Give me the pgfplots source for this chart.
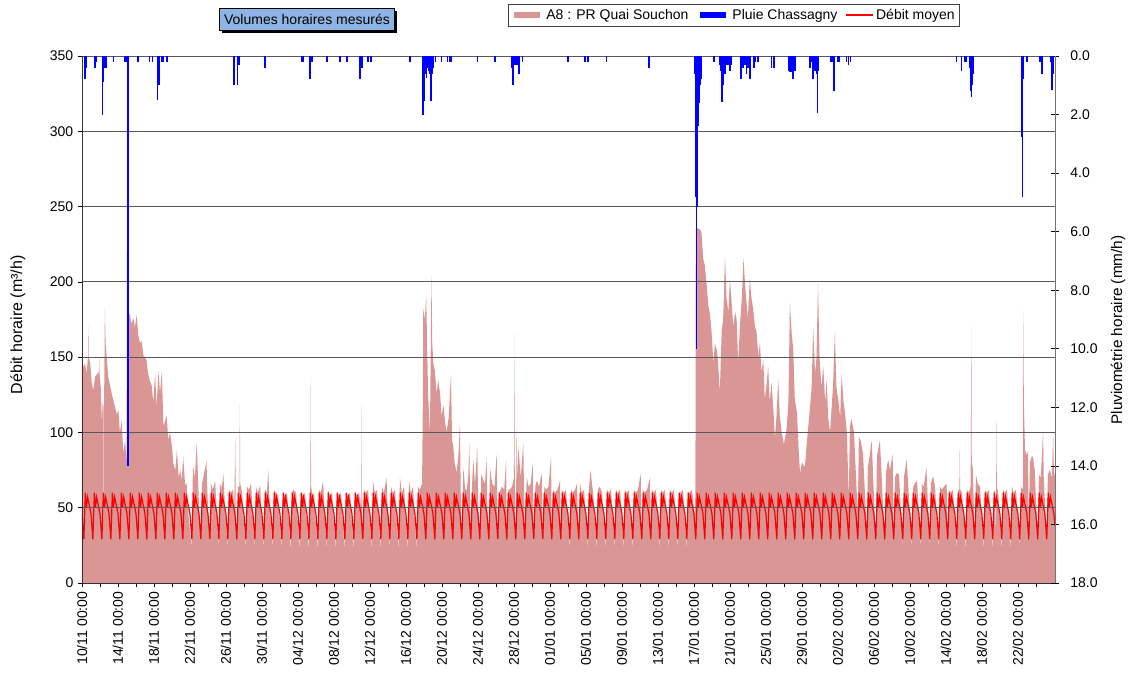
\documentclass[border=0pt]{standalone}
\usepackage{pgfplots}
\pgfplotsset{compat=1.18}
\usepackage{fontspec}
\setmainfont{Liberation Sans}
\usetikzlibrary{shadows}
\definecolor{pinkc}{RGB}{217,150,148}
\definecolor{titleblue}{RGB}{142,180,227}
\definecolor{rainblue}{RGB}{0,0,255}
\definecolor{meanred}{RGB}{255,0,0}
\pgfplotsset{
  pinkswatch/.style={legend image code/.code={\draw[draw=pinkc, line width=5pt] (0pt,0pt) -- (20pt,0pt);}},
  blueswatch/.style={legend image code/.code={\draw[draw=rainblue, line width=5pt] (0pt,0pt) -- (20pt,0pt);}},
  redswatch/.style={legend image code/.code={\draw[draw=meanred, line width=1pt] (0pt,0pt) -- (20pt,0pt);}},
}
\begin{document}
\begin{tikzpicture}
\begin{axis}[
  scale only axis, width=729.75pt, height=395.25pt,
  xmin=0, xmax=2595, ymin=0, ymax=350,
  axis x line*=bottom, axis y line*=left,
  xtick={0,96,...,2496},
  xticklabels={10/11 00:00,14/11 00:00,18/11 00:00,22/11 00:00,26/11 00:00,30/11 00:00,04/12 00:00,08/12 00:00,12/12 00:00,16/12 00:00,20/12 00:00,24/12 00:00,28/12 00:00,01/01 00:00,05/01 00:00,09/01 00:00,13/01 00:00,17/01 00:00,21/01 00:00,25/01 00:00,29/01 00:00,02/02 00:00,06/02 00:00,10/02 00:00,14/02 00:00,18/02 00:00,22/02 00:00},
  minor xtick={48,144,...,2544},
  ytick={0,50,...,350},
  ymajorgrids, grid style={black!65, line width=0.6pt},
  tick align=outside, major tick length=3pt, minor tick length=3pt,
  tick style={black, line width=0.5pt},
  axis line style={black!80, line width=0.6pt},
  /pgf/number format/assume math mode=true,
  ticklabel style={font=\fontsize{10.5}{12}\selectfont},
  xticklabel style={rotate=90, anchor=east},
  ylabel={Débit horaire (m³/h)},
  ylabel style={font=\fontsize{12}{14}\selectfont, at={(axis description cs:-0.0658,0.49)}, anchor=center},
  axis on top,
]
\addplot[fill=pinkc, draw=none] coordinates {
(0,150)(4,143)(8,146)(12,139)(16,150)(17,171)(18,150)(22,146)(26,133)(30,128)(35,137)(41,139)(45,140)(46,149)(47,138)(50,130)(53,107)(55,120)(56,118)(57,5)(58,118)(59,122)(60,150)(61,183)(63,159)(66,150)(70,137)(75,131)(79,126)(84,121)(88,117)(93,112)(97,115)(101,100)(106,108)(110,86)(115,95)(119,79)(120,220)(121,184)(124,180)(128,178)(132,172)(137,176)(141,170)(146,178)(150,165)(155,159)(159,161)(164,151)(168,150)(172,148)(176,140)(180,135)(186,131)(190,120)(195,139)(199,117)(204,141)(208,126)(213,141)(217,104)(222,108)(226,111)(230,95)(235,100)(240,90)(244,79)(249,75)(253,88)(258,70)(262,75)(266,68)(270,84)(275,65)(279,66)(284,45)
(292,24)(296,78)(301,70)(306,93)(310,66)
(316,24)(320,66)(325,72)(332,81)(334,64)
(340,24)(344,66)(349,62)(355,68)
(364,23)(368,66)(373,63)(377,73)(379,62)
(388,23)(392,62)(397,60)(403,62)
(406,50)(409,97)(410,45)(412,23)(416,64)(420,64)(421,119)(422,66)(427,60)
(436,23)(440,64)(445,62)(451,66)
(460,23)(464,64)(469,60)(475,65)
(484,23)(488,62)(493,60)(497,75)(499,60)
(508,23)(512,62)(517,60)(523,58)
(532,23)(536,60)(541,58)(547,60)
(556,22)(560,60)(564,62)(571,60)
(580,22)(584,60)(589,58)(595,60)
(604,22)(608,62)(609,64)(610,136)(611,64)(615,58)(619,60)
(628,22)(632,62)(637,60)(643,68)
(652,22)(656,62)(661,58)(667,60)
(676,22)(680,60)(685,58)(691,60)
(700,22)(704,60)(709,58)(715,60)
(724,22)(728,60)(733,58)(739,60)
(745,50)(746,119)(747,45)(749,22)(752,62)(757,60)(763,62)
(772,22)(776,68)(781,60)(787,62)
(796,22)(800,64)(805,60)(812,70)
(820,22)(824,64)(829,60)(835,62)
(844,22)(848,70)(853,60)(859,64)
(868,22)(872,68)(877,60)(883,64)
(892,22)(896,64)(901,62)(907,66)
(909,120)(910,182)(914,175)(918,190)(923,126)(928,100)(932,204)(934,160)(937,146)(941,141)(946,126)(950,135)(955,126)(959,111)(964,118)(968,108)(972,100)(978,110)(984,139)(987,95)(990,91)(994,80)(999,73)(1004,85)(1008,106)(1010,60)(1013,28)(1017,77)(1022,62)(1026,62)(1030,70)(1033,93)(1035,55)(1037,26)(1041,70)(1044,82)(1048,65)(1054,91)(1057,50)(1061,25)(1065,73)(1070,68)(1075,66)(1079,84)(1081,50)(1085,24)(1088,77)(1094,66)(1100,64)(1106,86)(1109,24)(1113,60)(1120,64)(1126,62)(1131,82)(1133,24)(1137,62)(1141,62)(1147,64)(1152,70)(1153,166)(1154,80)(1157,24)(1159,104)(1161,70)(1164,91)(1170,70)(1177,93)(1181,24)(1186,70)(1191,64)(1197,66)(1202,80)(1205,23)(1209,64)(1213,68)(1219,64)(1226,73)(1229,23)(1233,64)(1238,62)(1244,64)(1251,84)(1253,23)(1257,62)(1262,60)(1268,62)(1275,68)(1277,23)
(1280,62)(1285,60)(1291,62)
(1301,22)(1304,62)(1309,60)(1315,62)
(1320,66)(1325,22)(1328,66)(1333,60)(1339,62)
(1349,22)(1352,62)(1356,75)(1363,60)
(1373,22)(1376,62)(1381,64)(1387,60)
(1397,22)(1400,62)(1405,60)(1411,62)
(1421,22)(1424,62)(1429,60)(1435,62)
(1445,22)(1448,62)(1453,60)(1459,62)
(1469,22)(1472,62)(1477,60)(1483,62)
(1490,73)(1493,22)(1496,62)(1501,60)(1507,62)
(1515,70)(1517,22)(1520,62)(1525,60)(1531,62)
(1541,22)(1544,62)(1549,60)(1555,62)
(1565,22)(1568,62)(1573,60)(1579,62)
(1589,22)(1592,60)(1597,60)(1603,62)
(1613,22)(1616,60)(1621,60)(1627,62)
(1634,45)(1636,60)
(1637,236)(1648,235)(1652,233)(1657,215)(1661,211)(1666,198)(1670,185)(1675,178)(1679,167)(1684,146)(1688,159)(1694,154)(1698,140)(1701,126)(1706,167)(1710,175)(1715,217)(1719,189)(1724,180)(1728,202)(1733,185)(1737,170)(1742,180)(1746,175)(1750,146)(1755,172)(1760,190)(1764,216)(1768,200)(1772,187)(1776,176)(1781,202)(1785,190)(1790,182)(1795,170)(1799,167)(1804,150)(1808,160)(1812,140)(1817,148)(1821,122)(1825,130)(1830,144)(1834,120)(1839,133)(1844,115)(1848,96)(1852,110)(1857,135)(1861,111)(1866,100)(1872,92)(1879,102)(1884,120)(1888,186)(1893,165)(1897,155)(1901,122)(1907,113)(1911,90)(1915,73)(1920,80)(1928,77)(1932,90)(1937,104)(1942,118)(1946,130)(1950,170)(1955,139)(1959,150)(1963,199)(1967,150)(1972,130)(1977,144)(1982,120)(1986,135)(1990,110)(1995,100)(2003,131)(2008,167)(2012,130)(2017,122)(2022,110)(2026,139)(2031,120)(2035,113)(2040,100)
(2045,55)(2048,104)(2052,109)(2059,100)
(2069,45)(2072,97)(2077,94)(2083,86)
(2093,34)(2096,77)(2101,85)(2106,95)
(2117,28)(2120,84)(2128,95)(2131,80)
(2141,26)(2144,73)(2150,82)(2155,75)
(2162,86)(2165,25)(2168,70)(2173,73)(2179,72)
(2189,24)(2192,70)(2199,82)(2203,68)
(2213,23)(2217,64)(2221,66)(2227,68)
(2237,23)(2240,66)(2245,64)(2252,77)
(2261,23)(2264,66)(2270,71)(2275,64)
(2285,23)(2288,64)(2293,62)(2299,64)
(2306,66)(2309,22)(2312,62)(2317,60)(2323,62)
(2333,22)(2336,62)(2340,62)(2341,89)(2342,62)(2347,60)
(2357,22)(2360,62)(2365,60)(2370,64)(2372,170)(2373,80)(2376,76)
(2381,24)(2384,72)(2389,66)(2395,64)
(2405,22)(2408,62)(2413,60)(2419,62)
(2429,22)(2432,62)(2436,60)(2437,2)(2438,60)(2439,108)(2440,62)(2443,62)
(2453,22)(2456,62)(2461,60)(2467,62)
(2477,22)(2480,64)(2485,60)(2491,62)
(2501,24)(2504,64)(2509,62)(2510,181)(2512,120)(2515,88)(2520,85)(2523,88)
(2525,30)(2528,80)(2533,84)(2536,84)(2541,75)
(2549,28)(2552,72)(2557,70)(2563,100)(2565,70)
(2573,28)(2576,72)(2581,75)(2587,70)(2590,100)(2592,75)(2595,70)
} \closedcycle;
\addplot[meanred, line width=0.9pt] coordinates {
(0,46)(5,29)(9,60)(12,50)(15,57)(20,51)
(24,46)(29,29)(33,60)(36,50)(39,57)(44,51)
(48,46)(53,29)(57,60)(60,50)(63,57)(68,51)
(72,46)(77,29)(81,60)(84,50)(87,57)(92,51)
(96,46)(101,29)(105,60)(108,50)(111,57)(116,51)
(120,46)(125,29)(129,60)(132,50)(135,57)(140,51)
(144,46)(149,29)(153,60)(156,50)(159,57)(164,51)
(168,46)(173,29)(177,60)(180,50)(183,57)(188,51)
(192,46)(197,29)(201,60)(204,50)(207,57)(212,51)
(216,46)(221,29)(225,60)(228,50)(231,57)(236,51)
(240,46)(245,29)(249,60)(252,50)(255,57)(260,51)
(264,46)(269,29)(273,60)(276,50)(279,57)(284,51)
(288,46)(293,29)(297,60)(300,50)(303,57)(308,51)
(312,46)(317,29)(321,60)(324,50)(327,57)(332,51)
(336,46)(341,29)(345,60)(348,50)(351,57)(356,51)
(360,46)(365,29)(369,60)(372,50)(375,57)(380,51)
(384,46)(389,29)(393,60)(396,50)(399,57)(404,51)
(408,46)(413,29)(417,60)(420,50)(423,57)(428,51)
(432,46)(437,29)(441,60)(444,50)(447,57)(452,51)
(456,46)(461,29)(465,60)(468,50)(471,57)(476,51)
(480,46)(485,29)(489,60)(492,50)(495,57)(500,51)
(504,46)(509,29)(513,60)(516,50)(519,57)(524,51)
(528,46)(533,29)(537,60)(540,50)(543,57)(548,51)
(552,46)(557,29)(561,60)(564,50)(567,57)(572,51)
(576,46)(581,29)(585,60)(588,50)(591,57)(596,51)
(600,46)(605,29)(609,60)(612,50)(615,57)(620,51)
(624,46)(629,29)(633,60)(636,50)(639,57)(644,51)
(648,46)(653,29)(657,60)(660,50)(663,57)(668,51)
(672,46)(677,29)(681,60)(684,50)(687,57)(692,51)
(696,46)(701,29)(705,60)(708,50)(711,57)(716,51)
(720,46)(725,29)(729,60)(732,50)(735,57)(740,51)
(744,46)(749,29)(753,60)(756,50)(759,57)(764,51)
(768,46)(773,29)(777,60)(780,50)(783,57)(788,51)
(792,46)(797,29)(801,60)(804,50)(807,57)(812,51)
(816,46)(821,29)(825,60)(828,50)(831,57)(836,51)
(840,46)(845,29)(849,60)(852,50)(855,57)(860,51)
(864,46)(869,29)(873,60)(876,50)(879,57)(884,51)
(888,46)(893,29)(897,60)(900,50)(903,57)(908,51)
(912,46)(917,29)(921,60)(924,50)(927,57)(932,51)
(936,46)(941,29)(945,60)(948,50)(951,57)(956,51)
(960,46)(965,29)(969,60)(972,50)(975,57)(980,51)
(984,46)(989,29)(993,60)(996,50)(999,57)(1004,51)
(1008,46)(1013,29)(1017,60)(1020,50)(1023,57)(1028,51)
(1032,46)(1037,29)(1041,60)(1044,50)(1047,57)(1052,51)
(1056,46)(1061,29)(1065,60)(1068,50)(1071,57)(1076,51)
(1080,46)(1085,29)(1089,60)(1092,50)(1095,57)(1100,51)
(1104,46)(1109,29)(1113,60)(1116,50)(1119,57)(1124,51)
(1128,46)(1133,29)(1137,60)(1140,50)(1143,57)(1148,51)
(1152,46)(1157,29)(1161,60)(1164,50)(1167,57)(1172,51)
(1176,46)(1181,29)(1185,60)(1188,50)(1191,57)(1196,51)
(1200,46)(1205,29)(1209,60)(1212,50)(1215,57)(1220,51)
(1224,46)(1229,29)(1233,60)(1236,50)(1239,57)(1244,51)
(1248,46)(1253,29)(1257,60)(1260,50)(1263,57)(1268,51)
(1272,46)(1277,29)(1281,60)(1284,50)(1287,57)(1292,51)
(1296,46)(1301,29)(1305,60)(1308,50)(1311,57)(1316,51)
(1320,46)(1325,29)(1329,60)(1332,50)(1335,57)(1340,51)
(1344,46)(1349,29)(1353,60)(1356,50)(1359,57)(1364,51)
(1368,46)(1373,29)(1377,60)(1380,50)(1383,57)(1388,51)
(1392,46)(1397,29)(1401,60)(1404,50)(1407,57)(1412,51)
(1416,46)(1421,29)(1425,60)(1428,50)(1431,57)(1436,51)
(1440,46)(1445,29)(1449,60)(1452,50)(1455,57)(1460,51)
(1464,46)(1469,29)(1473,60)(1476,50)(1479,57)(1484,51)
(1488,46)(1493,29)(1497,60)(1500,50)(1503,57)(1508,51)
(1512,46)(1517,29)(1521,60)(1524,50)(1527,57)(1532,51)
(1536,46)(1541,29)(1545,60)(1548,50)(1551,57)(1556,51)
(1560,46)(1565,29)(1569,60)(1572,50)(1575,57)(1580,51)
(1584,46)(1589,29)(1593,60)(1596,50)(1599,57)(1604,51)
(1608,46)(1613,29)(1617,60)(1620,50)(1623,57)(1628,51)
(1632,46)(1637,29)(1641,60)(1644,50)(1647,57)(1652,51)
(1656,46)(1661,29)(1665,60)(1668,50)(1671,57)(1676,51)
(1680,46)(1685,29)(1689,60)(1692,50)(1695,57)(1700,51)
(1704,46)(1709,29)(1713,60)(1716,50)(1719,57)(1724,51)
(1728,46)(1733,29)(1737,60)(1740,50)(1743,57)(1748,51)
(1752,46)(1757,29)(1761,60)(1764,50)(1767,57)(1772,51)
(1776,46)(1781,29)(1785,60)(1788,50)(1791,57)(1796,51)
(1800,46)(1805,29)(1809,60)(1812,50)(1815,57)(1820,51)
(1824,46)(1829,29)(1833,60)(1836,50)(1839,57)(1844,51)
(1848,46)(1853,29)(1857,60)(1860,50)(1863,57)(1868,51)
(1872,46)(1877,29)(1881,60)(1884,50)(1887,57)(1892,51)
(1896,46)(1901,29)(1905,60)(1908,50)(1911,57)(1916,51)
(1920,46)(1925,29)(1929,60)(1932,50)(1935,57)(1940,51)
(1944,46)(1949,29)(1953,60)(1956,50)(1959,57)(1964,51)
(1968,46)(1973,29)(1977,60)(1980,50)(1983,57)(1988,51)
(1992,46)(1997,29)(2001,60)(2004,50)(2007,57)(2012,51)
(2016,46)(2021,29)(2025,60)(2028,50)(2031,57)(2036,51)
(2040,46)(2045,29)(2049,60)(2052,50)(2055,57)(2060,51)
(2064,46)(2069,29)(2073,60)(2076,50)(2079,57)(2084,51)
(2088,46)(2093,29)(2097,60)(2100,50)(2103,57)(2108,51)
(2112,46)(2117,29)(2121,60)(2124,50)(2127,57)(2132,51)
(2136,46)(2141,29)(2145,60)(2148,50)(2151,57)(2156,51)
(2160,46)(2165,29)(2169,60)(2172,50)(2175,57)(2180,51)
(2184,46)(2189,29)(2193,60)(2196,50)(2199,57)(2204,51)
(2208,46)(2213,29)(2217,60)(2220,50)(2223,57)(2228,51)
(2232,46)(2237,29)(2241,60)(2244,50)(2247,57)(2252,51)
(2256,46)(2261,29)(2265,60)(2268,50)(2271,57)(2276,51)
(2280,46)(2285,29)(2289,60)(2292,50)(2295,57)(2300,51)
(2304,46)(2309,29)(2313,60)(2316,50)(2319,57)(2324,51)
(2328,46)(2333,29)(2337,60)(2340,50)(2343,57)(2348,51)
(2352,46)(2357,29)(2361,60)(2364,50)(2367,57)(2372,51)
(2376,46)(2381,29)(2385,60)(2388,50)(2391,57)(2396,51)
(2400,46)(2405,29)(2409,60)(2412,50)(2415,57)(2420,51)
(2424,46)(2429,29)(2433,60)(2436,50)(2439,57)(2444,51)
(2448,46)(2453,29)(2457,60)(2460,50)(2463,57)(2468,51)
(2472,46)(2477,29)(2481,60)(2484,50)(2487,57)(2492,51)
(2496,46)(2501,29)(2505,60)(2508,50)(2511,57)(2516,51)
(2520,46)(2525,29)(2529,60)(2532,50)(2535,57)(2540,51)
(2544,46)(2549,29)(2553,60)(2556,50)(2559,57)(2564,51)
(2568,46)(2573,29)(2577,60)(2580,50)(2583,57)(2588,51)
(2592,46)(2595,38)
};
\end{axis}
\begin{axis}[
  scale only axis, width=729.75pt, height=395.25pt,
  xmin=0, xmax=2595, ymin=0, ymax=18, y dir=reverse,
  axis x line=none, axis y line*=right,
  ytick={0,2,...,18},
  tick align=center, major tick length=6pt,
  tick style={black, line width=0.5pt},
  axis line style={black!55, line width=0.6pt},
  yticklabel={\pgfmathprintnumber[fixed,fixed zerofill,precision=1,assume math mode=true]{\tick}},
  ticklabel style={font=\fontsize{10.5}{12}\selectfont},
  yticklabel style={xshift=5pt},
  ylabel={Pluviométrie horaire (mm/h)},
  ylabel style={font=\fontsize{11.5}{13}\selectfont, at={(axis description cs:1.0648,0.48)}, anchor=center},
  legend columns=3,
  legend style={at={(axis description cs:0.4378,1.0987)}, anchor=north west, draw=black!75, fill=white, font=\fontsize{10.5}{12}\selectfont, inner sep=1.5pt, /tikz/every even column/.append style={column sep=4pt}},
  legend cell align=left,
]
\addlegendimage{pinkswatch}
\addlegendentry{A8 : PR Quai Souchon}
\addlegendimage{blueswatch}
\addlegendentry{Pluie Chassagny}
\addlegendimage{redswatch}
\addlegendentry{Débit moyen}
\addplot[ycomb, draw=rainblue, line width=1.25pt, forget plot] coordinates {
(8,0.8)(11,0.4)(35,0.4)(39,0.2)(55,2.0)(57,0.9)(60,0.4)(64,0.4)(84,0.2)(115,0.2)(119,0.2)(122,14.0)(123,2.2)(124,0.8)(149,0.2)(180,0.2)(188,0.2)(201,1.5)(203,0.6)(206,1.0)(213,0.2)(217,0.2)(226,0.2)(406,1.0)(415,1.0)(417,0.3)(419,0.3)(488,0.4)(586,0.2)(590,0.2)(608,0.8)(609,0.4)(613,0.2)(653,0.2)(688,0.2)(706,0.2)(708,0.2)(741,0.8)(746,0.4)(762,0.2)(771,0.2)(875,0.2)(908,0.5)(910,2.0)(913,1.55)(916,0.6)(919,0.76)(921,0.4)(924,0.5)(926,0.4)(928,0.6)(931,1.55)(934,0.6)(937,0.4)(943,0.2)(959,0.2)(975,0.2)(980,0.2)(984,0.2)(1055,0.2)(1101,0.2)(1146,0.4)(1150,1.0)(1155,0.3)(1161,0.3)(1166,0.6)(1175,0.2)(1297,0.2)(1341,0.2)(1350,0.2)(1399,0.2)(1513,0.4)(1635,0.6)(1636,0.8)(1638,4.8)(1639,10.0)(1640,5.15)(1641,4.5)(1643,2.4)(1644,2.0)(1646,1.6)(1648,1.0)(1650,0.6)(1652,0.8)(1686,0.2)(1701,0.3)(1704,0.5)(1706,1.56)(1708,1.2)(1710,1.0)(1713,0.6)(1715,0.6)(1719,0.3)(1723,0.3)(1728,0.5)(1732,0.3)(1757,0.8)(1759,0.8)(1762,0.4)(1768,0.3)(1772,0.6)(1777,0.4)(1781,0.8)(1792,0.4)(1795,0.2)(1803,0.2)(1839,0.4)(1845,0.4)(1885,0.5)(1888,0.55)(1892,0.55)(1897,0.8)(1901,0.5)(1941,0.4)(1946,0.2)(1950,0.8)(1955,0.5)(1959,0.6)(1962,1.96)(1963,0.5)(1997,0.2)(2002,0.2)(2006,1.2)(2017,0.2)(2019,0.2)(2039,0.2)(2044,0.3)(2050,0.2)(2332,0.2)(2346,0.5)(2355,0.2)(2359,0.2)(2368,0.4)(2370,1.2)(2372,1.39)(2374,1.0)(2376,0.6)(2507,2.76)(2508,4.8)(2509,0.8)(2521,0.2)(2555,0.2)(2560,0.6)(2584,0.2)(2587,1.16)(2589,0.6)
};
\end{axis}
\node[draw=black, fill=titleblue, font=\fontsize{10.5}{12}\selectfont, minimum width=131pt, minimum height=16.5pt, inner sep=1pt, drop shadow={shadow xshift=2pt, shadow yshift=-2pt, fill=black, opacity=1}] at (168.75pt,423pt) {Volumes horaires mesurés};
\pgfresetboundingbox
\path[use as bounding box] (-61.5pt,-66.75pt) rectangle (784.5pt,437.25pt);
\end{tikzpicture}
\end{document}
